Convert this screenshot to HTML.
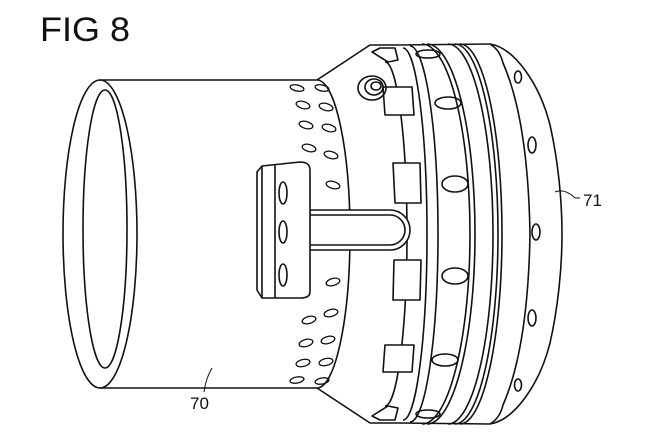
<!DOCTYPE html>
<html><head><style>
html,body{margin:0;padding:0;background:#fff;}
svg{display:block;}
text{font-family:"Liberation Sans",sans-serif;fill:#111;}
</style></head><body>
<svg width="650" height="439" viewBox="0 0 650 439" xmlns="http://www.w3.org/2000/svg">
<g fill="none" stroke="#111" stroke-width="1.6" stroke-linejoin="round">
<!-- cone -->
<path d="M317,80 L370,45 L400,45" />
<path d="M317,388 L370,423 L400,423" />
<!-- cylinder -->
<ellipse cx="100" cy="234" rx="37" ry="154" fill="#fff"/>
<ellipse cx="105" cy="229" rx="22" ry="139"/>
<path d="M100,80 L317,80 A33,154 0 0 1 317,388 L100,388"/>
<!-- teeth base arc -->
<path d="M385,62 A22,172 0 0 1 385,406"/>
<!-- teeth -->
<g fill="#fff">
<path d="M372,52 L380,48 L395,48 L398,60 L388,62 Z"/>
<path d="M383,87 L412,87 L414,115 L385,115 Z"/>
<path d="M393,163 L420,163 L421,203 L395,203 Z"/>
<path d="M394,260 L421,260 L420,300 L393,300 Z"/>
<path d="M385,345 L414,345 L412,372 L383,372 Z"/>
<path d="M372,416 L380,420 L395,420 L398,408 L388,406 Z"/>
</g>
<!-- ring arcs -->
<path d="M403,48 A24,186 0 0 1 403,420"/>
<path d="M410,46 A28,188 0 0 1 410,422"/>
<path d="M422,44 A48,190 0 0 1 422,424"/>
<path d="M427,44 A48,190 0 0 1 427,424"/>
<path d="M448,44 A45,190 0 0 1 448,424"/>
<path d="M455,44 A43,190 0 0 1 455,424"/>
<path d="M460,44 A42,190 0 0 1 460,424"/>
<path d="M400,45 L490,44"/>
<path d="M400,423 L490,424"/>
<!-- outer cap -->
<path d="M490,44 C515,48 540,85 550,125 C558,160 562,200 562,234 C562,268 558,308 550,343 C540,383 515,420 490,424"/>
<path d="M490,44 Q500,50 503,63 Q528,120 530,234 Q528,348 503,405 Q500,418 490,424"/>
<!-- pipe -->
<path d="M310,210 L390,210 A20,20 0 0 1 390,250 L310,250" fill="#fff"/>
<path d="M310,215 L390,215 A15,15 0 0 1 390,245 L310,245"/>
<!-- bracket -->
<path d="M262,166 L300,162 Q310,162 310,170 L310,292 Q310,298 300,298 L262,298 L257,290 L257,172 Z" fill="#fff"/>
<line x1="262" y1="166" x2="262" y2="298"/>
<line x1="275" y1="164" x2="275" y2="298"/>
<ellipse cx="283" cy="193" rx="4" ry="11"/>
<ellipse cx="283" cy="232" rx="4" ry="11"/>
<ellipse cx="283" cy="275" rx="4" ry="11"/>
<!-- threaded hole -->
<ellipse cx="372" cy="88" rx="14" ry="12"/>
<ellipse cx="374" cy="87" rx="9" ry="8"/>
<ellipse cx="376" cy="86" rx="5" ry="4"/>
<!-- ring holes -->
<ellipse cx="428" cy="54" rx="12" ry="4"/>
<ellipse cx="448" cy="103" rx="13" ry="6"/>
<ellipse cx="455" cy="184" rx="13" ry="8"/>
<ellipse cx="455" cy="276" rx="13" ry="8"/>
<ellipse cx="445" cy="360" rx="13" ry="6"/>
<ellipse cx="428" cy="414" rx="12" ry="4"/>
<!-- cap holes -->
<ellipse cx="518" cy="77" rx="3.5" ry="6"/>
<ellipse cx="532" cy="145" rx="4" ry="8"/>
<ellipse cx="536" cy="232" rx="4" ry="8"/>
<ellipse cx="532" cy="318" rx="4" ry="8"/>
<ellipse cx="518" cy="385" rx="3.5" ry="6"/>
<!-- cylinder holes -->
<g stroke-width="1.3">
<ellipse cx="297" cy="88" rx="7" ry="3" transform="rotate(12 297 88)"/>
<ellipse cx="322" cy="88" rx="7" ry="3" transform="rotate(12 322 88)"/>
<ellipse cx="303" cy="105" rx="7" ry="3.5" transform="rotate(15 303 105)"/>
<ellipse cx="326" cy="107" rx="7" ry="3.5" transform="rotate(15 326 107)"/>
<ellipse cx="306" cy="125" rx="7" ry="3.5" transform="rotate(15 306 125)"/>
<ellipse cx="329" cy="128" rx="7" ry="3.5" transform="rotate(15 329 128)"/>
<ellipse cx="309" cy="148" rx="7" ry="3.5" transform="rotate(15 309 148)"/>
<ellipse cx="331" cy="155" rx="7" ry="3.5" transform="rotate(15 331 155)"/>
<ellipse cx="333" cy="185" rx="7" ry="3.5" transform="rotate(15 333 185)"/>
<ellipse cx="333" cy="282" rx="7" ry="3.5" transform="rotate(-15 333 282)"/>
<ellipse cx="309" cy="320" rx="7" ry="3.5" transform="rotate(-15 309 320)"/>
<ellipse cx="331" cy="313" rx="7" ry="3.5" transform="rotate(-15 331 313)"/>
<ellipse cx="306" cy="343" rx="7" ry="3.5" transform="rotate(-15 306 343)"/>
<ellipse cx="328" cy="340" rx="7" ry="3.5" transform="rotate(-15 328 340)"/>
<ellipse cx="303" cy="363" rx="7" ry="3.5" transform="rotate(-12 303 363)"/>
<ellipse cx="326" cy="362" rx="7" ry="3.5" transform="rotate(-12 326 362)"/>
<ellipse cx="297" cy="380" rx="7" ry="3" transform="rotate(-10 297 380)"/>
<ellipse cx="322" cy="381" rx="7" ry="3" transform="rotate(-10 322 381)"/>
</g>
<!-- leaders -->
<path d="M212,368 Q206,378 204,392" stroke-width="1"/>
<path d="M555,192 Q565,188 575,198 L580,198" stroke-width="1"/>
</g>
<text x="40" y="41" font-size="34" textLength="90" lengthAdjust="spacingAndGlyphs">FIG 8</text>
<text x="190" y="409" font-size="17">70</text>
<text x="583" y="206" font-size="17">71</text>
</svg>
</body></html>
